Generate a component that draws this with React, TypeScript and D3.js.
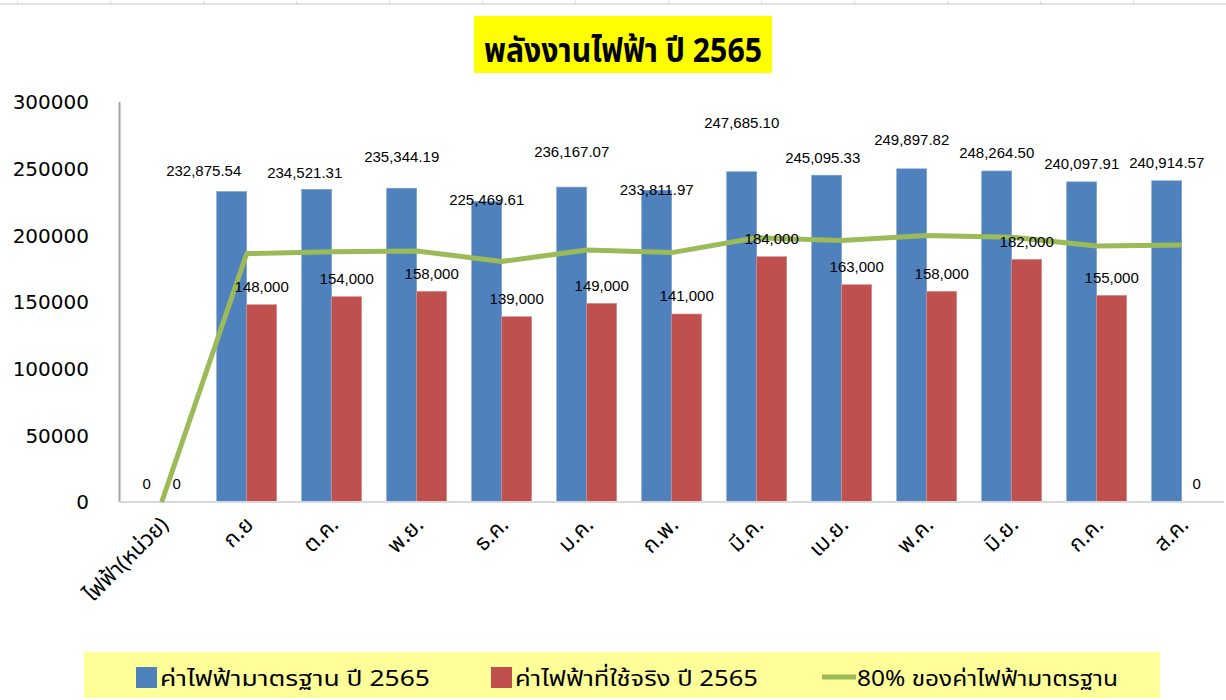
import React from "react";
import * as d3 from "d3";

const categories = ["ไฟฟ้า(หน่วย)", "ก.ย", "ต.ค.", "พ.ย.", "ธ.ค.", "ม.ค.", "ก.พ.", "มี.ค.", "เม.ย.", "พ.ค.", "มิ.ย.", "ก.ค.", "ส.ค."];
const standardValues = [0, 232875.54, 234521.31, 235344.19, 225469.61, 236167.07, 233811.97, 247685.10, 245095.33, 249897.82, 248264.50, 240097.91, 240914.57];
const actualValues = [0, 148000, 154000, 158000, 139000, 149000, 141000, 184000, 163000, 158000, 182000, 155000, 0];
const eightyPercentValues = [0, 186300, 187617, 188275, 180376, 188934, 187050, 198148, 196076, 199918, 198612, 192078, 192732];
const yTicks = [0, 50000, 100000, 150000, 200000, 250000, 300000];
const seriesNames = ["ค่าไฟฟ้ามาตรฐาน ปี 2565", "ค่าไฟฟ้าที่ใช้จริง ปี 2565", "80% ของค่าไฟฟ้ามาตรฐาน"];
const titleText = "พลังงานไฟฟ้า ปี 2565";

// manual label nudges (dx, dy) as placed in the original chart
const blueLabelNudge: [number, number][] = [[0, 0], [-28, -3], [-12, 1], [0, -13], [0, 16], [0, -17], [0, 17], [0, -31], [-4, 1], [0, -11], [0, 0], [0, 0], [0, 0]];

const BLUE = "#4F81BD";
const RED = "#C0504D";
const GREEN = "#9BBB59";
const THAI = "Tahoma, 'Noto Sans Thai', 'Leelawadee UI', 'Liberation Sans', sans-serif";
const LABEL_FONT = "'Liberation Sans', Arial, sans-serif";

export default function App() {
  const W = 1226, H = 700;
  const x0 = d3.scaleBand<string>().domain(categories).range([119.2, 1224.2]).paddingInner(0.2941).paddingOuter(0.147);
  const x1 = d3.scaleBand<string>().domain(["std", "act"]).range([0, x0.bandwidth()]);
  const y = d3.scaleLinear().domain([0, 300000]).range([502, 102]);
  const fmt2 = d3.format(",.2f");
  const fmt0 = d3.format(",");
  const cx = (c: string) => (x0(c) as number) + x0.bandwidth() / 2;
  const line = d3.line<number>().x((_, i) => cx(categories[i])).y((d) => y(d));
  const topTicks = d3.range(17.7, W, 93);

  return (
    <svg width={W} height={H} style={{ position: "absolute", left: 0, top: 0, background: "#fff" }}>
      <rect x={0} y={0} width={W} height={H} fill="#fff" />
      {/* spreadsheet header remnant */}
      <line x1={0} x2={W} y1={4} y2={4} stroke="#e3e3e3" strokeWidth={2} />
      {topTicks.map((t, i) => (
        <line key={i} x1={t} x2={t} y1={1} y2={5} stroke="#d6d6d6" strokeWidth={1} />
      ))}

      {/* title */}
      <rect x={474} y={16} width={298} height={57} fill="#FFFF00" />
      <text x={623} y={62} textAnchor="middle" fontFamily={THAI} fontSize={34} fontWeight="bold" fill="#000" textLength={278} lengthAdjust="spacingAndGlyphs">{titleText}</text>

      {/* y axis labels */}
      {yTicks.map((t) => (
        <text key={t} x={89} y={y(t)} dy="0.36em" textAnchor="end" fontFamily="'DejaVu Sans', Verdana, sans-serif" fontSize={20} fill="#000">{t}</text>
      ))}
      <line x1={119.5} x2={119.5} y1={102} y2={502} stroke="#a6a6a6" strokeWidth={2} />

      {/* bars */}
      {categories.map((c, i) => (
        <g key={c}>
          <rect x={(x0(c) as number) + (x1("std") as number)} y={y(standardValues[i])} width={x1.bandwidth()} height={502 - y(standardValues[i])} fill={BLUE} stroke="#7FA3D3" strokeWidth={0.6} />
          <rect x={(x0(c) as number) + (x1("act") as number)} y={y(actualValues[i])} width={x1.bandwidth()} height={502 - y(actualValues[i])} fill={RED} stroke="#D8908E" strokeWidth={0.6} />
        </g>
      ))}
      <line x1={119} x2={1224} y1={502} y2={502} stroke="#d9d9d9" strokeWidth={2} />

      {/* line */}
      <path d={line(eightyPercentValues) as string} fill="none" stroke={GREEN} strokeWidth={5} strokeLinejoin="round" />

      {/* data labels */}
      {categories.map((c, i) => {
        const bx = (x0(c) as number) + (x1("std") as number) + x1.bandwidth() / 2;
        const ax = (x0(c) as number) + (x1("act") as number) + x1.bandwidth() / 2;
        const [dx, dy] = blueLabelNudge[i];
        const sv = standardValues[i];
        const av = actualValues[i];
        return (
          <g key={"l" + c} fontFamily={LABEL_FONT} fontSize={15} fill="#000">
            <text x={bx + dx} y={y(sv) - 18 + dy} dy="0.35em" textAnchor="middle">{sv === 0 ? "0" : fmt2(sv)}</text>
            <text x={ax} y={y(av) - 18} dy="0.35em" textAnchor="middle">{av === 0 ? "0" : fmt0(av)}</text>
          </g>
        );
      })}

      {/* x labels */}
      {categories.map((c) => (
        <text key={"x" + c} transform={`translate(${cx(c) + 8},${526}) rotate(-45)`} textAnchor="end" fontFamily={THAI} fontSize={22} fill="#000">{c}</text>
      ))}

      {/* legend */}
      <rect x={84} y={652} width={1076} height={46} fill="#FFFF99" />
      <rect x={136} y={667} width={21} height={21} fill={BLUE} />
      <text x={160} y={686} fontFamily={THAI} fontSize={22} fill="#000" textLength={270} lengthAdjust="spacingAndGlyphs">{seriesNames[0]}</text>
      <rect x={491} y={667} width={21} height={21} fill={RED} />
      <text x={515} y={686} fontFamily={THAI} fontSize={22} fill="#000" textLength={243} lengthAdjust="spacingAndGlyphs">{seriesNames[1]}</text>
      <line x1={822} x2={856} y1={677} y2={677} stroke={GREEN} strokeWidth={5} />
      <text x={857} y={686} fontFamily={THAI} fontSize={22} fill="#000" textLength={261} lengthAdjust="spacingAndGlyphs">{seriesNames[2]}</text>
    </svg>
  );
}
